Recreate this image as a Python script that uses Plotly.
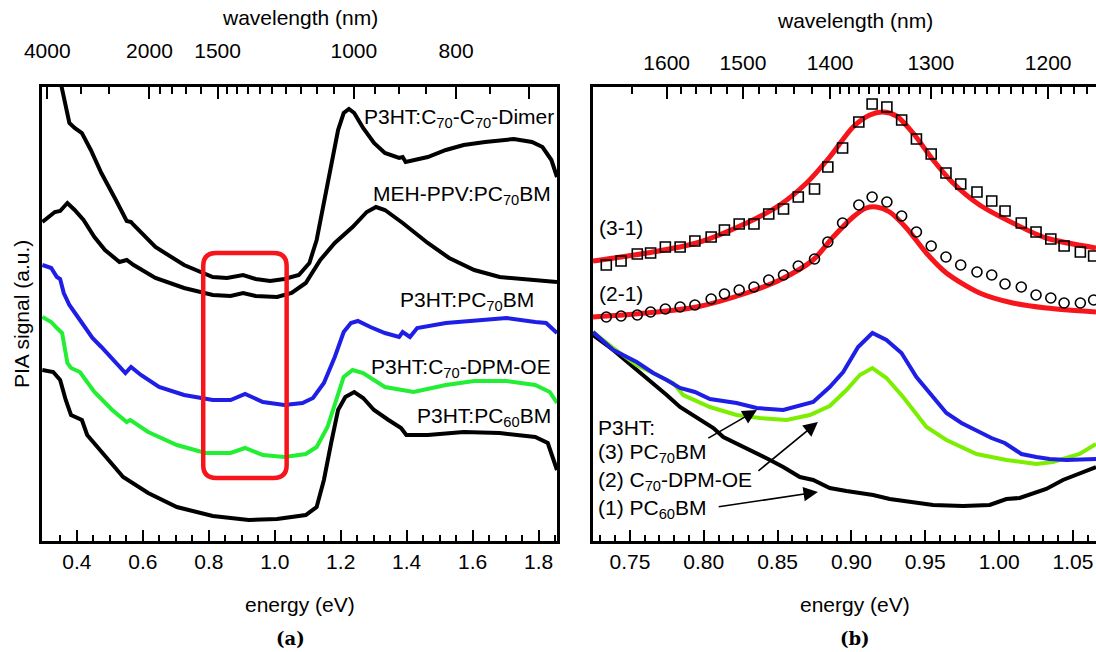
import plotly.graph_objects as go

HC = 1239.84  # eV*nm

# ---------------- Panel (a): PIA spectra (energy in eV, signal in a.u.) ----------------
dimer_e = [0.349, 0.366, 0.377, 0.393, 0.415, 0.442, 0.474, 0.518, 0.551, 0.564, 0.572, 0.638, 0.725,
           0.812, 0.855, 0.904, 0.942, 0.986, 1.029, 1.073, 1.105, 1.127, 1.149, 1.171, 1.192, 1.209,
           1.225, 1.241, 1.268, 1.301, 1.334, 1.377, 1.388, 1.397, 1.421, 1.464, 1.519, 1.573, 1.638,
           1.725, 1.780, 1.812, 1.839, 1.856]
dimer_s = [461, 434, 418, 413, 408, 391, 368, 341, 320, 319, 316, 294, 276,
           264, 263, 266, 262, 260, 262, 266, 278, 301, 338, 378, 411, 428,
           432, 428, 413, 398, 388, 383, 384, 379, 381, 384, 391, 396, 399,
           402, 399, 394, 381, 364]

meh_e = [0.295, 0.311, 0.333, 0.349, 0.371, 0.393, 0.420, 0.453, 0.485, 0.529, 0.551, 0.572, 0.638,
         0.725, 0.812, 0.866, 0.904, 0.942, 1.007, 1.051, 1.094, 1.138, 1.182, 1.236, 1.279, 1.307,
         1.334, 1.388, 1.464, 1.529, 1.605, 1.682, 1.769, 1.856]
meh_s = [319, 323, 329, 330, 338, 331, 321, 304, 291, 279, 281, 276, 263,
         253, 246, 245, 248, 245, 244, 248, 258, 281, 298, 314, 329, 334,
         331, 318, 298, 283, 271, 264, 261, 259]

pc70_e = [0.295, 0.322, 0.339, 0.349, 0.360, 0.377, 0.409, 0.447, 0.474, 0.518, 0.547, 0.564, 0.594,
          0.649, 0.725, 0.812, 0.866, 0.910, 0.964, 1.029, 1.084, 1.116, 1.149, 1.182, 1.209, 1.231,
          1.252, 1.290, 1.334, 1.377, 1.388, 1.410, 1.432, 1.519, 1.605, 1.703, 1.790, 1.823, 1.856]
pc70_s = [276, 273, 264, 262, 248, 236, 221, 203, 194, 178, 168, 174, 166,
          154, 146, 141, 141, 147, 139, 136, 138, 143, 158, 184, 209, 218,
          220, 214, 208, 204, 209, 204, 213, 218, 220, 223, 219, 218, 208]

dpm_e = [0.295, 0.322, 0.339, 0.355, 0.371, 0.382, 0.409, 0.453, 0.507, 0.551, 0.562, 0.616, 0.703,
         0.790, 0.866, 0.910, 0.964, 1.029, 1.094, 1.127, 1.160, 1.187, 1.209, 1.236, 1.268, 1.334,
         1.421, 1.519, 1.605, 1.703, 1.790, 1.834, 1.856]
dpm_s = [224, 219, 213, 208, 178, 173, 169, 149, 131, 119, 121, 109, 96,
         88, 88, 93, 86, 84, 87, 94, 114, 141, 164, 171, 168, 154,
         149, 156, 160, 160, 156, 149, 138]

pc60_e = [0.295, 0.328, 0.349, 0.366, 0.382, 0.415, 0.431, 0.474, 0.540, 0.616, 0.703, 0.812, 0.921,
          1.007, 1.094, 1.127, 1.149, 1.171, 1.192, 1.214, 1.241, 1.268, 1.301, 1.345, 1.383, 1.399,
          1.464, 1.573, 1.682, 1.790, 1.828, 1.856]
pc60_s = [171, 169, 161, 141, 126, 121, 106, 89, 64, 48, 34, 25, 21,
          22, 26, 34, 61, 98, 131, 144, 149, 143, 131, 121, 113, 106,
          106, 109, 108, 104, 98, 71]

# ---------------- Panel (b): zoom on the 0.92 eV feature ----------------
diff31_e = [0.734, 0.744, 0.755, 0.764, 0.774, 0.784, 0.794, 0.805, 0.814, 0.824, 0.834, 0.844,
            0.854, 0.864, 0.875, 0.884, 0.894, 0.905, 0.914, 0.924, 0.934, 0.944, 0.954, 0.964,
            0.974, 0.985, 0.995, 1.004, 1.015, 1.025, 1.035, 1.044, 1.055, 1.064]
diff31_s = [276, 280, 287, 288, 294, 294, 300, 304, 311, 317, 317, 327,
            332, 344, 352, 374, 393, 419, 437, 434, 421, 402, 387, 368,
            357, 349, 340, 330, 318, 309, 302, 295, 289, 285]
diff21_s = [224, 225, 226, 229, 232, 234, 236, 242, 247, 251, 254, 261,
            266, 275, 282, 299, 318, 336, 344, 339, 325, 309, 295, 284,
            276, 269, 266, 257, 254, 246, 243, 238, 238, 241]

fit31_e = [0.725, 0.7613, 0.7952, 0.829, 0.8515, 0.8696, 0.8853, 0.9011, 0.9124, 0.9214, 0.9305,
           0.9417, 0.9553, 0.9688, 0.9868, 1.0093, 1.0319, 1.0656]
fit31_s = [280, 288, 298, 318, 336, 358, 384, 414, 426, 429, 425,
           408, 381, 358, 336, 318, 303, 293]
fit21_e = [0.725, 0.7613, 0.7952, 0.829, 0.8515, 0.874, 0.8876, 0.9011, 0.9101, 0.9169, 0.9259,
           0.9372, 0.9507, 0.9643, 0.9868, 1.0093, 1.0319, 1.0656]
fit21_s = [224, 228, 234, 248, 261, 281, 304, 324, 333, 334, 329,
           313, 288, 268, 248, 238, 233, 229]

b3_e = [0.725, 0.7387, 0.7546, 0.7658, 0.7749, 0.7839, 0.7940, 0.8042, 0.8222, 0.8358, 0.8538,
        0.8741, 0.8853, 0.8944, 0.9045, 0.9142, 0.9237, 0.9339, 0.9440, 0.9530, 0.9643, 0.9745,
        0.9847, 0.9948, 1.0038, 1.0151, 1.0252, 1.0342, 1.0455, 1.0656]
b3_s = [209, 191, 179, 168, 161, 153, 149, 142, 138, 133, 131,
        139, 154, 169, 194, 208, 201, 188, 164, 148, 128, 118,
        111, 103, 98, 87, 84, 82, 81, 82]

b2_e = [0.725, 0.7387, 0.7546, 0.7793, 0.7861, 0.8042, 0.8222, 0.8380, 0.8561, 0.8718, 0.8853,
        0.8966, 0.9057, 0.9142, 0.9237, 0.9350, 0.9508, 0.9643, 0.9847, 1.0049, 1.0252, 1.0364,
        1.0545, 1.0656]
b2_s = [209, 193, 176, 158, 146, 134, 126, 123, 121, 126, 135,
        151, 166, 173, 163, 144, 114, 101, 87, 81, 77, 79,
        87, 97]

b1_e = [0.725, 0.7387, 0.7523, 0.7658, 0.7749, 0.7839, 0.7952, 0.8065, 0.8132, 0.8245, 0.8335,
        0.8448, 0.8538, 0.8651, 0.8741, 0.8853, 0.8966, 0.9147, 0.9259, 0.9372, 0.9553, 0.9756,
        0.9936, 1.0049, 1.0139, 1.0319, 1.0432, 1.0656]
b1_s = [206, 191, 174, 158, 146, 134, 124, 113, 104, 96, 90,
        81, 74, 64, 61, 53, 50, 46, 42, 40, 36, 35,
        36, 42, 43, 52, 61, 74]

# ---------------- Tick definitions ----------------
a_bottom_major = [0.4, 0.6, 0.8, 1.0, 1.2, 1.4, 1.6, 1.8]
a_bottom_minor = [0.35, 0.45, 0.5, 0.55, 0.65, 0.7, 0.75, 0.85, 0.9, 0.95, 1.05, 1.1, 1.15,
                  1.25, 1.3, 1.35, 1.45, 1.5, 1.55, 1.65, 1.7, 1.75, 1.85]
a_top_major_nm = [4000, 2000, 1500, 1000, 800, 700]
a_top_major_txt = ["4000", "2000", "1500", "1000", "800", ""]
a_top_minor_nm = [3000, 2500, 1900, 1800, 1700, 1600, 1450, 1400, 1350, 1300, 1250, 1200,
                  1150, 1100, 1050, 950, 900, 850, 750]

b_bottom_major = [0.75, 0.80, 0.85, 0.90, 0.95, 1.00, 1.05]
b_bottom_minor = [0.73, 0.74, 0.76, 0.77, 0.78, 0.79, 0.81, 0.82, 0.83, 0.84, 0.86, 0.87, 0.88,
                  0.89, 0.91, 0.92, 0.93, 0.94, 0.96, 0.97, 0.98, 0.99, 1.01, 1.02, 1.03, 1.04, 1.06]
b_top_major_nm = [1600, 1500, 1400, 1300, 1200]
b_top_minor_nm = [1650, 1580, 1560, 1540, 1520, 1480, 1460, 1440, 1420,
                  1390, 1380, 1370, 1360, 1350, 1340, 1330, 1320, 1310,
                  1290, 1280, 1270, 1260, 1250, 1240, 1230, 1220, 1210,
                  1190, 1180, 1170]

# ---------------- Styling ----------------
FONT = "Liberation Sans, Arial, sans-serif"
BLACK = "#000000"
BLUE = "#1e1ee6"
GREEN_A = "#22ee33"
GREEN_B = "#7cee00"
RED = "#f5151a"
W, H = 1096, 652
TICKFONT = 21

A_RANGE = [0.294, 1.856]
B_RANGE = [0.725, 1.0656]
Y_RANGE = [0, 454]

fig = go.Figure()

lw = 4
for e, s, c in [(dimer_e, dimer_s, BLACK), (meh_e, meh_s, BLACK), (pc70_e, pc70_s, BLUE),
                (dpm_e, dpm_s, GREEN_A), (pc60_e, pc60_s, BLACK)]:
    fig.add_trace(go.Scatter(x=e, y=s, mode="lines", line=dict(color=c, width=lw),
                             xaxis="x", yaxis="y", showlegend=False, hoverinfo="skip"))

for e, s, c in [(b1_e, b1_s, BLACK), (b2_e, b2_s, GREEN_B), (b3_e, b3_s, BLUE)]:
    fig.add_trace(go.Scatter(x=e, y=s, mode="lines", line=dict(color=c, width=lw),
                             xaxis="x2", yaxis="y2", showlegend=False, hoverinfo="skip"))

for e, s in [(fit31_e, fit31_s), (fit21_e, fit21_s)]:
    fig.add_trace(go.Scatter(x=e, y=s, mode="lines", line=dict(color=RED, width=5, shape="spline", smoothing=0.8),
                             xaxis="x2", yaxis="y2", showlegend=False, hoverinfo="skip"))

fig.add_trace(go.Scatter(x=diff31_e, y=diff31_s, mode="markers",
                         marker=dict(symbol="square-open", size=10, color=BLACK, line=dict(width=1.6)),
                         xaxis="x2", yaxis="y2", showlegend=False, hoverinfo="skip"))
fig.add_trace(go.Scatter(x=diff31_e, y=diff21_s, mode="markers",
                         marker=dict(symbol="circle-open", size=10, color=BLACK, line=dict(width=1.6)),
                         xaxis="x2", yaxis="y2", showlegend=False, hoverinfo="skip"))

# invisible traces to activate the top (wavelength) axes
fig.add_trace(go.Scatter(x=[1.0], y=[-100], mode="markers", marker=dict(opacity=0),
                         xaxis="x3", yaxis="y", showlegend=False, hoverinfo="skip"))
fig.add_trace(go.Scatter(x=[0.9], y=[-100], mode="markers", marker=dict(opacity=0),
                         xaxis="x4", yaxis="y2", showlegend=False, hoverinfo="skip"))

dom_a = [42 / W, 557 / W]
dom_b = [593 / W, 1.0]
dom_y = [(H - 541) / H, (H - 87) / H]

axis_common = dict(showgrid=False, zeroline=False, showline=True, linecolor=BLACK, linewidth=2.5,
                   automargin=False,
                   ticks="inside", tickcolor=BLACK, tickwidth=2, tickfont=dict(family=FONT, size=TICKFONT, color=BLACK))

fig.update_layout(
    width=W, height=H, margin=dict(l=0, r=0, t=0, b=0, autoexpand=False),
    paper_bgcolor="white", plot_bgcolor="white",
    xaxis=dict(domain=dom_a, range=A_RANGE, anchor="y", tickmode="array", tickvals=a_bottom_major,
               ticktext=[f"{v:.1f}" for v in a_bottom_major], ticklen=11,
               minor=dict(tickmode="array", tickvals=a_bottom_minor, ticks="inside", ticklen=6, tickwidth=2, tickcolor=BLACK),
               **axis_common),
    xaxis3=dict(domain=dom_a, range=A_RANGE, anchor="y", overlaying="x", side="top", tickmode="array",
                tickvals=[HC / v for v in a_top_major_nm], ticktext=a_top_major_txt, ticklen=12,
                ticklabelstandoff=18,
                minor=dict(tickmode="array", tickvals=[HC / v for v in a_top_minor_nm], ticks="inside",
                           ticklen=7, tickwidth=2, tickcolor=BLACK),
                **axis_common),
    yaxis=dict(domain=dom_y, range=Y_RANGE, anchor="x", showticklabels=False, showgrid=False, zeroline=False,
               automargin=False, showline=True, linecolor=BLACK, linewidth=2.5, mirror=True, ticks=""),
    xaxis2=dict(domain=dom_b, range=B_RANGE, anchor="y2", tickmode="array", tickvals=b_bottom_major,
                ticktext=[f"{v:.2f}" for v in b_bottom_major], ticklen=11,
                minor=dict(tickmode="array", tickvals=b_bottom_minor, ticks="inside", ticklen=6, tickwidth=2, tickcolor=BLACK),
                **axis_common),
    xaxis4=dict(domain=dom_b, range=B_RANGE, anchor="y2", overlaying="x2", side="top", tickmode="array",
                tickvals=[HC / v for v in b_top_major_nm], ticktext=[str(v) for v in b_top_major_nm], ticklen=12,
                ticklabelstandoff=6,
                minor=dict(tickmode="array", tickvals=[HC / v for v in b_top_minor_nm], ticks="inside",
                           ticklen=7, tickwidth=2, tickcolor=BLACK),
                **axis_common),
    yaxis2=dict(domain=dom_y, range=Y_RANGE, anchor="x2", showticklabels=False, showgrid=False, zeroline=False,
                automargin=False, showline=True, linecolor=BLACK, linewidth=2.5, ticks=""),
)

# red rounded box in panel (a)
x0, x1, y0, y1 = 0.783, 1.036, 63, 288
rx, ry = 13 / 330, 13
path = (f"M {x0+rx},{y1} L {x1-rx},{y1} Q {x1},{y1} {x1},{y1-ry} L {x1},{y0+ry} "
        f"Q {x1},{y0} {x1-rx},{y0} L {x0+rx},{y0} Q {x0},{y0} {x0},{y0+ry} "
        f"L {x0},{y1-ry} Q {x0},{y1} {x0+rx},{y1} Z")
fig.add_shape(type="path", path=path, xref="x", yref="y", line=dict(color=RED, width=4.5))

TXT = dict(family=FONT, size=21, color=BLACK)


def px(xp):
    return xp / W


def py(yp):
    return 1 - yp / H


ann = []
# curve labels in panel (a)
for text, xr, yc in [("P3HT:C<sub>70</sub>-C<sub>70</sub>-Dimer", 556, 118),
                     ("MEH-PPV:PC<sub>70</sub>BM", 553, 195),
                     ("P3HT:PC<sub>70</sub>BM", 536, 301),
                     ("P3HT:C<sub>70</sub>-DPM-OE", 553, 368),
                     ("P3HT:PC<sub>60</sub>BM", 553, 417)]:
    ann.append(dict(text=text, x=px(xr), y=py(yc), xref="paper", yref="paper", xanchor="right",
                    yanchor="middle", showarrow=False, font=TXT))

# labels in panel (b)
for text, xl, yc in [("(3-1)", 597, 227), ("(2-1)", 597, 293), ("P3HT:", 596, 427),
                     ("(3) PC<sub>70</sub>BM", 596, 453), ("(2) C<sub>70</sub>-DPM-OE", 596, 481),
                     ("(1) PC<sub>60</sub>BM", 596, 509)]:
    ann.append(dict(text=text, x=px(xl), y=py(yc), xref="paper", yref="paper", xanchor="left",
                    yanchor="middle", showarrow=False, font=TXT))

# arrows in panel (b)
for (tx, ty), (hx, hy) in [((0.8021, 102), (0.8360, 131)),
                           ((0.8360, 69), (0.8773, 119)),
                           ((0.8091, 34), (0.8773, 49))]:
    ann.append(dict(text="", x=hx, y=hy, ax=tx, ay=ty, xref="x2", yref="y2", axref="x2", ayref="y2",
                    showarrow=True, arrowhead=2, arrowsize=1.8, arrowwidth=1.6, arrowcolor=BLACK, standoff=0))

# axis titles
for cx, ty in ((300, 18), (855, 20)):
    ann.append(dict(text="wavelength (nm)", x=px(cx), y=py(ty), xref="paper", yref="paper",
                    xanchor="center", yanchor="middle", showarrow=False, font=TXT))
    ann.append(dict(text="energy (eV)", x=px(cx), y=py(604), xref="paper", yref="paper",
                    xanchor="center", yanchor="middle", showarrow=False, font=TXT))
ann.append(dict(text="<b>(a)</b>", x=px(290), y=py(638), xref="paper", yref="paper", xanchor="center",
                yanchor="middle", showarrow=False, font=dict(family="DejaVu Serif, serif", size=18, color=BLACK)))
ann.append(dict(text="<b>(b)</b>", x=px(855), y=py(638), xref="paper", yref="paper", xanchor="center",
                yanchor="middle", showarrow=False, font=dict(family="DejaVu Serif, serif", size=18, color=BLACK)))
ann.append(dict(text="PIA signal (a.u.)", x=px(21), y=py(314), xref="paper", yref="paper", xanchor="center",
                yanchor="middle", textangle=-90, showarrow=False, font=TXT))

fig.update_layout(annotations=ann)

fig.write_html("out.html")
